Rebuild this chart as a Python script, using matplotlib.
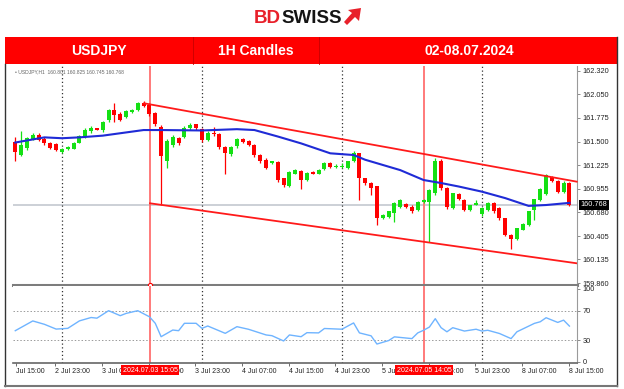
import matplotlib
matplotlib.use("Agg")
import matplotlib.pyplot as plt
from matplotlib.patches import Rectangle, Polygon
import numpy as np

plt.rcParams['font.family'] = ['Liberation Sans', 'DejaVu Sans']

# USDJPY H1 candles, bar 0 = 2 Jul 15:00 ... bar 95 = 8 Jul 14:00
opens = [161.50, 161.34, 161.43, 161.53, 161.58, 161.53, 161.49, 161.47, 161.38, 161.415,
         161.42, 161.49, 161.55, 161.62, 161.655, 161.63, 161.75, 161.87, 161.82, 161.79,
         161.845, 161.87, 161.95, 161.925, 161.83, 161.675, 161.27, 161.46, 161.54, 161.56,
         161.655, 161.70, 161.645, 161.52, 161.60, 161.59, 161.44, 161.36, 161.45, 161.53,
         161.51, 161.46, 161.35, 161.29, 161.25, 161.26, 161.075, 160.99, 161.13, 161.16,
         161.055, 161.15, 161.13, 161.18, 161.25, 161.21, 161.21, 161.19, 161.27, 161.365,
         161.075, 161.017, 160.98, 160.61, 160.63, 160.67, 160.74, 160.775, 160.745, 160.71,
         160.80, 160.80, 160.90, 161.27, 160.96, 160.73, 160.89, 160.82, 160.71, 160.765,
         160.66, 160.71, 160.785, 160.73, 160.61, 160.42, 160.37, 160.48, 160.53, 160.71,
         160.82, 160.89, 161.09, 161.04, 160.92, 161.02]
closes = [161.38, 161.46, 161.54, 161.58, 161.52, 161.48, 161.43, 161.40, 161.42, 161.44,
          161.49, 161.57, 161.64, 161.655, 161.635, 161.73, 161.87, 161.81, 161.75, 161.86,
          161.865, 161.945, 161.915, 161.82, 161.70, 161.33, 161.51, 161.56, 161.48, 161.655,
          161.69, 161.655, 161.52, 161.60, 161.585, 161.44, 161.365, 161.44, 161.53, 161.50,
          161.46, 161.345, 161.27, 161.20, 161.27, 161.055, 160.995, 161.15, 161.17, 161.055,
          161.14, 161.13, 161.17, 161.25, 161.21, 161.22, 161.22, 161.27, 161.365, 161.075,
          161.017, 160.96, 160.61, 160.65, 160.69, 160.785, 160.82, 160.74, 160.69, 160.80,
          160.82, 160.94, 161.27, 160.96, 160.74, 160.90, 160.83, 160.71, 160.765, 160.79,
          160.73, 160.785, 160.69, 160.61, 160.42, 160.37, 160.495, 160.55, 160.69, 160.83,
          160.95, 161.11, 161.04, 160.92, 161.02, 160.768]
highs = [161.56, 161.62, 161.56, 161.60, 161.60, 161.55, 161.50, 161.48, 161.43, 161.45,
         161.50, 161.58, 161.66, 161.68, 161.66, 161.74, 161.88, 161.945, 161.84, 161.87,
         161.88, 161.96, 161.97, 161.95, 161.84, 161.69, 161.53, 161.58, 161.55, 161.68,
         161.72, 161.71, 161.66, 161.62, 161.67, 161.60, 161.45, 161.45, 161.54, 161.54,
         161.52, 161.47, 161.36, 161.31, 161.28, 161.27, 161.08, 161.16, 161.18, 161.17,
         161.15, 161.16, 161.18, 161.26, 161.26, 161.24, 161.25, 161.28, 161.395, 161.37,
         161.08, 161.03, 160.99, 160.66, 160.70, 160.80, 160.83, 160.79, 160.76, 160.81,
         160.84, 160.95, 161.31, 161.30, 160.97, 160.91, 160.90, 160.83, 160.77, 160.82,
         160.74, 160.80, 160.80, 160.74, 160.62, 160.43, 160.50, 160.56, 160.70, 160.84,
         160.96, 161.12, 161.10, 161.05, 161.04, 161.03]
lows = [161.27, 161.33, 161.40, 161.52, 161.51, 161.46, 161.42, 161.39, 161.37, 161.40,
        161.41, 161.48, 161.54, 161.60, 161.63, 161.61, 161.73, 161.73, 161.74, 161.77,
        161.83, 161.86, 161.90, 161.80, 161.68, 160.76, 161.19, 161.44, 161.46, 161.54,
        161.64, 161.64, 161.50, 161.51, 161.57, 161.42, 161.13, 161.33, 161.43, 161.49,
        161.45, 161.32, 161.25, 161.18, 161.24, 161.03, 160.97, 160.97, 161.12, 160.95,
        161.04, 161.12, 161.12, 161.17, 161.20, 161.20, 161.20, 161.18, 161.26, 160.82,
        161.00, 160.88, 160.53, 160.60, 160.62, 160.57, 160.73, 160.73, 160.67, 160.70,
        160.79, 160.34, 160.88, 160.94, 160.72, 160.72, 160.82, 160.69, 160.70, 160.76,
        160.64, 160.70, 160.67, 160.59, 160.40, 160.26, 160.36, 160.47, 160.52, 160.59,
        160.81, 160.88, 161.03, 160.91, 160.91, 160.75]

# moving average (blue) read at these bars
ma_bars = [0, 5, 8, 11, 15, 22, 25, 32, 38, 41, 45, 49, 54, 58, 60, 66, 70, 73, 76, 80, 84, 88, 91, 95]
ma_vals = [161.49, 161.55, 161.54, 161.55, 161.57, 161.635, 161.635, 161.63, 161.645, 161.635,
           161.56, 161.48, 161.365, 161.345, 161.29, 161.17, 161.055, 161.02, 160.98, 160.92,
           160.845, 160.755, 160.765, 160.79]

# RSI sub-window
rsi_bars = [0, 3, 5, 7, 9, 11, 13, 14, 16, 18, 19, 21, 23, 24, 25, 27, 28, 29, 31, 32,
            33, 36, 38, 40, 43, 44, 46, 47, 49, 50, 52, 53, 56, 58, 59, 61, 62, 64, 65, 68,
            69, 70, 71, 72, 73, 74, 75, 77, 79, 80, 81, 83, 85, 86, 89, 90, 91, 93, 94, 95]
rsi_vals = [42.7, 56.0, 51.4, 44.9, 45.9, 56.1, 60.7, 59.8, 70.0, 63.2, 66.3, 70.0, 61.7, 52.8, 34.5, 43.6, 42.7, 52.8, 52.8, 45.9,
            49.1, 39.1, 48.2, 44.6, 36.9, 35.9, 28.7, 36.9, 34.5, 40.0, 39.7, 45.7, 44.7, 53.3, 39.7, 35.7, 24.5, 29.2, 34.3, 31.9,
            39.7, 43.3, 47.7, 59.1, 46.8, 41.2, 46.8, 42.2, 44.7, 42.2, 43.3, 38.9, 31.9, 41.2, 52.7, 54.9, 60.4, 54.0, 57.1, 49.0]

# descending channel
upper_bars = [22.1, 96.25]
upper_vals = [161.945, 161.036]
lower_bars = [23.1, 96.25]
lower_vals = [160.785, 160.089]

price_ticks = [162.320, 162.050, 161.775, 161.500, 161.225, 160.955, 160.680, 160.405, 160.135, 159.860]
rsi_ticks = [100, 70, 30, 0]
day_sep_bars = [8, 32, 56, 80]
time_bars = [0, 8, 16, 24, 32, 40, 48, 56, 64, 72, 80, 88, 96]
time_labels = ['Jul 15:00', '2 Jul 23:00', '3 Jul 07:00', '3 Jul 15:00', '3 Jul 23:00', '4 Jul 07:00',
               '4 Jul 15:00', '4 Jul 23:00', '5 Jul 07:00', '5 Jul 15:00', '5 Jul 23:00', '8 Jul 07:00',
               '8 Jul 15:00']
marker_bars = [23.1, 70.07]
marker_labels = ['2024.07.03 15:05', '2024.07.05 14:05']
last_price = 160.768

GREEN = '#14e014'
RED = '#ff0000'
W, H = 624, 389


def rect(l, t, r, b):
    # pixel box (top-left origin) -> figure fraction
    return [l / W, 1 - b / H, (r - l) / W, (b - t) / H]


fig = plt.figure(figsize=(W / 100, H / 100), dpi=100)
fig.patch.set_facecolor('white')

ax = fig.add_axes(rect(13, 66, 577, 285))
ax2 = fig.add_axes(rect(13, 286, 577, 363.3), sharex=ax)
ax.set_xlim(-0.39, 96.3)
ax.set_ylim(159.837, 162.378)
ax2.set_ylim(-1.8, 103.7)

# candles
idx = np.arange(len(opens))
o = np.array(opens)
c = np.array(closes)
col = np.where(c >= o, GREEN, RED)
ax.vlines(idx, lows, highs, colors=col, lw=0.9, zorder=3)
ax.bar(idx, np.maximum(np.abs(c - o), 0.012), bottom=np.minimum(o, c), width=0.7,
       color=col, linewidth=0, zorder=4)

ax.plot(ma_bars, ma_vals, color='#1f2bd6', lw=1.5, zorder=5)
ax.plot(upper_bars, upper_vals, color='#ff1a1a', lw=1.3, zorder=5, clip_on=False)
ax.plot(lower_bars, lower_vals, color='#ff1a1a', lw=1.3, zorder=5)
ax.axhline(last_price, color='#c3c8d0', lw=1.2, zorder=1)

for a in (ax, ax2):
    for b in day_sep_bars:
        a.axvline(b, color='#333333', lw=0.9, ls=(0, (1, 2)), zorder=2)
    for b in marker_bars:
        a.axvline(b, color='#ff7070', lw=1.3, zorder=2)
    a.set_facecolor('white')
    for s in ('top', 'left'):
        a.spines[s].set_visible(False)
    a.spines['right'].set_color('#9a9a9a')
    a.yaxis.tick_right()
    a.tick_params(axis='y', length=2, width=0.6, color='#777777', labelsize=5.3,
                  labelcolor='#222222', pad=2)

ax.plot([marker_bars[0]], [159.84], marker='o', ms=3, mfc='white', mec='red', mew=0.8,
        clip_on=False, zorder=6)

ax.spines['bottom'].set_color('#7d7d7d')
ax.spines['bottom'].set_linewidth(2.2)
ax.set_yticks(price_ticks)
ax.set_yticklabels(['%.3f' % p for p in price_ticks])
ax.tick_params(axis='x', bottom=False, labelbottom=False)
ax.text(1.006, last_price, '%.3f' % last_price, transform=ax.get_yaxis_transform(),
        ha='left', va='center', fontsize=5.3, color='white', zorder=10, clip_on=False,
        bbox=dict(boxstyle='square,pad=0.2', fc='black', ec='none'))
ax.text(0.004, 0.985, '\u2022 USDJPY,H1  160.801 160.825 160.745 160.768', transform=ax.transAxes,
        ha='left', va='top', fontsize=3.6, color='#666666')

# RSI panel
ax2.plot(rsi_bars, rsi_vals, color='#6fb4ff', lw=1.0, zorder=4)
for lvl in (70, 30):
    ax2.axhline(lvl, color='#9a9a9a', lw=0.7, ls=(0, (1.5, 2)), zorder=1)
ax2.set_yticks(rsi_ticks)
ax2.set_yticklabels([str(v) for v in rsi_ticks])
ax2.spines['bottom'].set_color('#666666')
ax2.spines['bottom'].set_linewidth(1.2)
tick_pos = [b - 1.15 for b in time_bars]
tick_pos[0] = 0.05
ax2.set_xticks(tick_pos)
ax2.set_xticklabels(time_labels)
ax2.tick_params(axis='x', length=2, width=0.6, color='#555555', labelsize=5, labelcolor='#222222', pad=1.5)
for lbl in ax2.get_xticklabels():
    lbl.set_ha('left')
for b, t in zip(marker_bars, marker_labels):
    ax2.text(b, -0.087, t, transform=ax2.get_xaxis_transform(), ha='center', va='center',
             fontsize=5, color='white', zorder=10, clip_on=False,
             bbox=dict(boxstyle='square,pad=0.25', fc='#ff0000', ec='none'))

# header, logo and frame
ov = fig.add_axes([0, 0, 1, 1])
ov.set_xlim(0, W)
ov.set_ylim(H, 0)
ov.axis('off')

ov.text(281, 23, 'BD', ha='right', va='baseline', color='#e8202a', fontsize=13.5, weight='bold')
ov.text(281, 23, 'SWISS', ha='left', va='baseline', color='#141414', fontsize=13.5, weight='bold')
ov.add_patch(Polygon([(344, 22), (352, 13), (348, 10), (361, 8), (359, 21), (355, 17), (347, 25)],
                     closed=True, fc='#e8202a', ec='none'))

ov.add_patch(Rectangle((5, 37), 612, 27, fc='#ff0000', ec='none'))
for xd in (193, 319):
    ov.plot([xd, xd], [37, 64], color='#c80000', lw=0.6)
header = [(99, 'USDJPY'), (256, '1H Candles'), (469, '02-08.07.2024')]
for xc, t in header:
    ov.text(xc, 51, t, ha='center', va='center', color='white', fontsize=10, weight='bold')

ov.plot([5, 5], [64, 386], color='#333333', lw=1.0)
ov.plot([617, 617], [37, 386], color='#333333', lw=1.0)
ov.plot([5, 617], [386, 386], color='#777777', lw=1.5)

fig.savefig('out.png', dpi=100, facecolor='white')
